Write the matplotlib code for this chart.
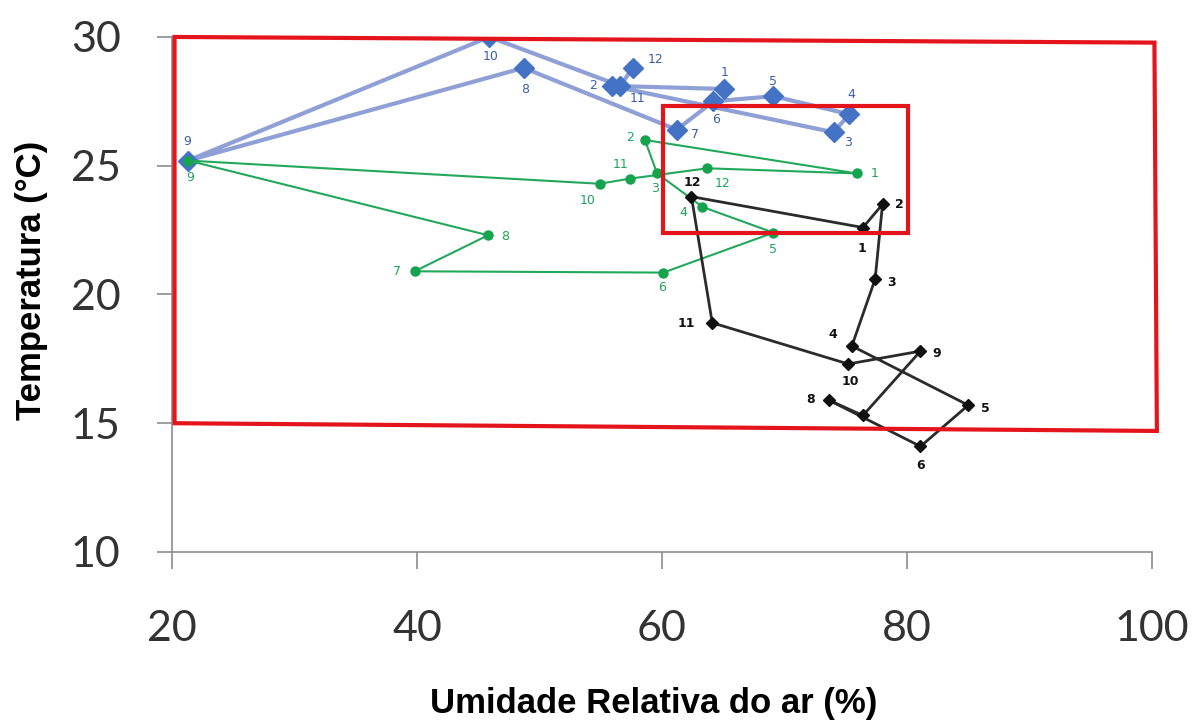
import matplotlib.pyplot as plt
from matplotlib.patches import Polygon

# dados: umidade relativa (%) x temperatura (C), por mes
azul_x = [65.1, 55.9, 74.0, 75.3, 69.1, 64.2, 61.2, 48.7, 21.3, 45.9, 56.6, 57.6]
azul_y = [27.98, 28.1, 26.3, 27.0, 27.7, 27.5, 26.4, 28.8, 25.2, 30.0, 28.1, 28.8]
azul_rot = ['1', '2', '3', '4', '5', '6', '7', '8', '9', '10', '11', '12']

verde_x = [75.9, 58.6, 59.6, 63.3, 69.1, 60.1, 39.8, 45.8, 21.3, 54.9, 57.4, 63.7]
verde_y = [24.7, 26.0, 24.7, 23.4, 22.4, 20.85, 20.9, 22.3, 25.2, 24.3, 24.5, 24.9]
verde_rot = ['1', '2', '3', '4', '5', '6', '7', '8', '9', '10', '11', '12']

preto_x = [76.4, 78.0, 77.4, 75.5, 85.0, 81.1, 73.6, 76.4, 81.1, 75.2, 64.1, 62.4]
preto_y = [22.6, 23.5, 20.6, 18.0, 15.7, 14.1, 15.9, 15.3, 17.8, 17.3, 18.9, 23.8]
preto_rot = ['1', '2', '3', '4', '5', '6', '8', '', '9', '10', '11', '12']

xticks = [20, 40, 60, 80, 100]
yticks = [10, 15, 20, 25, 30]

# deslocamento dos rotulos (pixels)
off_azul = [(0, 16), (-19, 0), (15, -10), (2, 20), (0, 15), (3, -18), (18, -5),
            (2, -22), (-1, 19), (1, -20), (17, -13), (23, 8)]
off_verde = [(18, 0), (-15, 2), (-2, -15), (-19, -6), (0, -17), (-1, -15), (-18, 0),
             (17, -1), (2, -17), (-12, -17), (-10, 14), (15, -15)]
off_preto = [(-1, -21), (17, 0), (16, -3), (-19, 11), (17, -3), (0, -19), (-18, 1),
             (0, 0), (16, -2), (2, -18), (-26, -1), (1, 14)]

fig = plt.figure(figsize=(11.95, 7.22), dpi=100)
ax = fig.add_axes([0.144, 0.2355, 0.820, 0.7133])

ax.plot(azul_x, azul_y, color='#8EA0D6', lw=3, zorder=2)
ax.plot(azul_x, azul_y, ls='none', marker='D', ms=10, color='#4472C4', zorder=3)

vx = verde_x + verde_x[:1]
vy = verde_y + verde_y[:1]
ax.plot(vx, vy, color='#22A85A', lw=1.5, zorder=4)
ax.plot(verde_x, verde_y, ls='none', marker='o', ms=6.5, color='#16A34E', zorder=5)

px = preto_x + preto_x[:1]
py = preto_y + preto_y[:1]
ax.plot(px, py, color='#2B2B2B', lw=2, zorder=6)
ax.plot(preto_x, preto_y, ls='none', marker='D', ms=6, color='#111111', zorder=7)

def rotulos(xs, ys, rots, offs, cor, peso='normal'):
    for x, y, r, (dx, dy) in zip(xs, ys, rots, offs):
        if r:
            ax.annotate(r, (x, y), xytext=(dx, dy), textcoords='offset pixels',
                        ha='center', va='center', fontsize=9, color=cor,
                        fontweight=peso, zorder=9)

rotulos(azul_x, azul_y, azul_rot, off_azul, '#3A5DAE')
rotulos(verde_x, verde_y, verde_rot, off_verde, '#1FA35A')
rotulos(preto_x, preto_y, preto_rot, off_preto, '#111111', 'bold')

# caixas vermelhas
caixa1 = [(20.2, 30.0), (100.2, 29.78), (100.4, 14.7), (20.2, 15.0)]
caixa2 = [(60.1, 27.33), (80.1, 27.33), (80.1, 22.4), (60.1, 22.4)]
for c in (caixa1, caixa2):
    ax.add_patch(Polygon(c, closed=True, fill=False, ec='#E3141C', lw=3,
                         clip_on=False, zorder=10))

ax.set_xlim(20, 100)
ax.set_ylim(10, 30)
ax.set_xticks(xticks)
ax.set_yticks(yticks)
for s in ['top', 'right']:
    ax.spines[s].set_visible(False)
for s in ['left', 'bottom']:
    ax.spines[s].set_color('#8C8C8C')
    ax.spines[s].set_linewidth(1.2)
ax.tick_params(axis='x', length=12, width=1.2, color='#8C8C8C', pad=30,
               labelsize=31, labelcolor='#333333')
ax.tick_params(axis='y', length=11, width=1.2, color='#8C8C8C', pad=26,
               labelsize=31, labelcolor='#333333')
for t in ax.get_xticklabels() + ax.get_yticklabels():
    t.set_fontfamily('Lato')

fig.text(0.547, 0.0125, 'Umidade Relativa do ar (%)', ha='center', va='baseline',
         fontsize=25, fontweight='bold', family='Liberation Sans')
fig.text(0.026, 0.612, 'Temperatura (°C)', ha='center', va='center', rotation=90,
         fontsize=25, fontweight='bold', family='Liberation Sans')

fig.savefig('out.png', dpi=100)
